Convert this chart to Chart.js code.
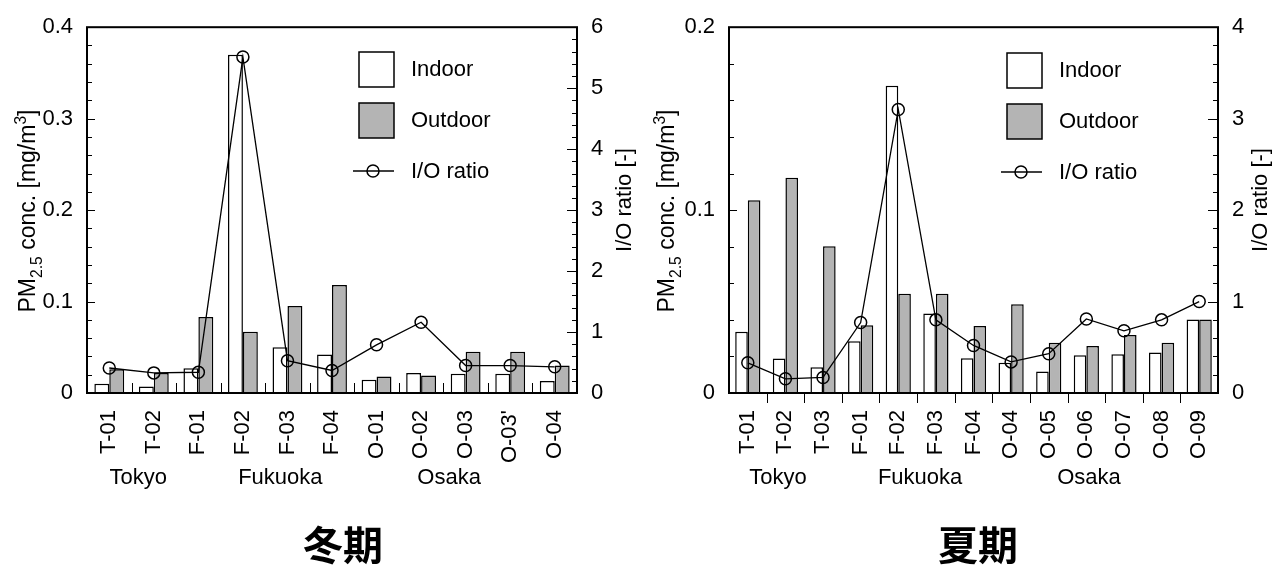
<!DOCTYPE html>
<html>
<head>
<meta charset="utf-8">
<script src="https://cdn.jsdelivr.net/npm/chart.js@4.4.1/dist/chart.umd.min.js"></script>
<style>
  body { margin: 0; background: #fff; }
  #wrap { width: 1272px; height: 568px; display: flex; }
  canvas { display: block; }
</style>
</head>
<body>
<div id="wrap">
  <canvas id="winter" width="636" height="568"></canvas>
  <canvas id="summer" width="636" height="568"></canvas>
</div>
<script>
// winter (冬期)
const winterSites = ['T-01', 'T-02', 'F-01', 'F-02', 'F-03', 'F-04', 'O-01', 'O-02', 'O-03', "O-03'", 'O-04'];
const winterIndoor = [0.010, 0.007, 0.027, 0.370, 0.050, 0.042, 0.0145, 0.022, 0.021, 0.021, 0.013];
const winterOutdoor = [0.026, 0.022, 0.083, 0.067, 0.095, 0.118, 0.018, 0.019, 0.045, 0.045, 0.030];
const winterRatio = [0.41, 0.33, 0.34, 5.51, 0.53, 0.37, 0.79, 1.16, 0.45, 0.45, 0.43];

// summer (夏期)
const summerSites = ['T-01', 'T-02', 'T-03', 'F-01', 'F-02', 'F-03', 'F-04', 'O-04', 'O-05', 'O-06', 'O-07', 'O-08', 'O-09'];
const summerIndoor = [0.0335, 0.0188, 0.0141, 0.0283, 0.168, 0.0435, 0.019, 0.0166, 0.0117, 0.0207, 0.0212, 0.0221, 0.0402];
const summerOutdoor = [0.1054, 0.1177, 0.0802, 0.037, 0.0543, 0.0543, 0.0367, 0.0485, 0.0275, 0.0257, 0.0317, 0.0275, 0.0402];
const summerRatio = [0.33, 0.155, 0.17, 0.77, 3.10, 0.80, 0.52, 0.34, 0.43, 0.81, 0.68, 0.80, 1.0];

const cities = ['Tokyo', 'Fukuoka', 'Osaka'];
const seriesNames = ['Indoor', 'Outdoor', 'I/O ratio'];

const FONT = '"Liberation Sans", Arial, sans-serif';
const GREY = '#b4b4b4';

function line(ctx, x1, y1, x2, y2) {
    ctx.beginPath();
    ctx.moveTo(x1, y1);
    ctx.lineTo(x2, y2);
    ctx.stroke();
}

// text with sub/superscripts, rotated -90deg, centred on (cx, cy)
function rotatedRich(ctx, parts, cx, cy, size) {
    ctx.save();
    ctx.translate(cx, cy);
    ctx.rotate(-Math.PI / 2);
    ctx.textBaseline = 'alphabetic';
    ctx.textAlign = 'left';
    let total = 0;
    parts.forEach(p => {
        ctx.font = (p[1] ? size * 0.68 : size) + 'px ' + FONT;
        total += ctx.measureText(p[0]).width;
    });
    let x = -total / 2;
    parts.forEach(p => {
        ctx.font = (p[1] ? size * 0.68 : size) + 'px ' + FONT;
        const dy = p[1] === 'sub' ? size * 0.3 : p[1] === 'sup' ? -size * 0.42 : 0;
        ctx.fillText(p[0], x, size * 0.36 + dy);
        x += ctx.measureText(p[0]).width;
    });
    ctx.restore();
}

const decor = {
    id: 'decor',
    afterDraw(chart, args, o) {
        const ctx = chart.ctx, a = chart.chartArea;
        const y = chart.scales.y, y1 = chart.scales.y1;
        ctx.save();
        ctx.strokeStyle = '#000';
        ctx.fillStyle = '#000';

        // minor / major ticks on both value axes
        ctx.lineWidth = 1;
        for (let i = 1; i * o.yMinor < y.max - 1e-9; i++) {
            const v = i * o.yMinor;
            const major = Math.abs(v / o.yMajor - Math.round(v / o.yMajor)) < 1e-6;
            const py = Math.round(y.getPixelForValue(v)) + 0.5;
            line(ctx, a.left, py, a.left + (major ? 8 : 5), py);
        }
        for (let i = 1; i * 0.2 < y1.max - 1e-9; i++) {
            const v = i * 0.2;
            const major = Math.abs(v - Math.round(v)) < 1e-6;
            const py = Math.round(y1.getPixelForValue(v)) + 0.5;
            line(ctx, a.right, py, a.right - (major ? 10 : 5), py);
        }

        // category boundary ticks
        const n = chart.data.labels.length;
        const w = (a.right - a.left) / n;
        for (let k = 1; k < n; k++) {
            const px = Math.round(a.left + k * w) + 0.5;
            if (o.xTicksIn) line(ctx, px, a.bottom, px, a.bottom - 10);
            else line(ctx, px, a.bottom, px, a.bottom + 10);
        }

        // frame
        ctx.lineWidth = 2;
        ctx.strokeRect(a.left, a.top, a.right - a.left, a.bottom - a.top);

        // legend
        const lx = o.legend[0], ly = o.legend[1];
        ctx.lineWidth = 1.5;
        ctx.fillStyle = '#fff';
        ctx.fillRect(lx, ly, 35, 35);
        ctx.strokeRect(lx, ly, 35, 35);
        ctx.fillStyle = GREY;
        ctx.fillRect(lx, ly + 51, 35, 35);
        ctx.strokeRect(lx, ly + 51, 35, 35);
        line(ctx, lx - 6, ly + 119, lx + 35, ly + 119);
        ctx.beginPath();
        ctx.arc(lx + 14, ly + 119, 6, 0, Math.PI * 2);
        ctx.stroke();
        ctx.fillStyle = '#000';
        ctx.font = '22px ' + FONT;
        ctx.textAlign = 'left';
        ctx.textBaseline = 'middle';
        ctx.fillText(seriesNames[0], lx + 52, ly + 18);
        ctx.fillText(seriesNames[1], lx + 52, ly + 69);
        ctx.fillText(seriesNames[2], lx + 52, ly + 120);

        // city names under the tick labels
        ctx.textAlign = 'center';
        cities.forEach((c, i) => {
            ctx.fillText(c, a.left + (o.cityAt[i] + 0.5) * w, 478);
        });

        // axis titles
        rotatedRich(ctx, [['PM'], ['2.5', 'sub'], [' conc. [mg/m'], ['3', 'sup'], [']']], o.leftTitleX, 211, 23);
        rotatedRich(ctx, [['I/O ratio [-]']], chart.width - 13, 200, 22);

        // season title
        ctx.font = 'bold 40px "Noto Sans CJK JP", sans-serif';
        ctx.textAlign = 'center';
        ctx.fillText(o.season, o.seasonX, 545);
        ctx.restore();
    }
};

function makeChart(id, labels, indoor, outdoor, ratio, opts) {
    const ctx = document.getElementById(id).getContext('2d');
    return new Chart(ctx, {
        type: 'bar',
        data: {
            labels: labels,
            datasets: [
                {
                    type: 'line',
                    label: seriesNames[2],
                    data: ratio,
                    yAxisID: 'y1',
                    borderColor: '#000',
                    borderWidth: 1.3,
                    pointRadius: 6,
                    pointBorderWidth: 1.5,
                    pointBackgroundColor: 'rgba(0,0,0,0)',
                    pointBorderColor: '#000',
                    tension: 0,
                    order: 0
                },
                {
                    label: seriesNames[0],
                    data: indoor,
                    yAxisID: 'y',
                    backgroundColor: '#fff',
                    borderColor: '#000',
                    borderWidth: 1.5,
                    borderSkipped: 'bottom',
                    categoryPercentage: 0.67,
                    barPercentage: 1.0,
                    order: 1
                },
                {
                    label: seriesNames[1],
                    data: outdoor,
                    yAxisID: 'y',
                    backgroundColor: GREY,
                    borderColor: '#000',
                    borderWidth: 1.5,
                    borderSkipped: 'bottom',
                    categoryPercentage: 0.67,
                    barPercentage: 1.0,
                    order: 1
                }
            ]
        },
        options: {
            responsive: false,
            animation: false,
            layout: { padding: { top: 25, left: 0, right: 0, bottom: 0 } },
            plugins: {
                legend: { display: false },
                tooltip: { enabled: false },
                decor: opts
            },
            scales: {
                x: {
                    offset: true,
                    grid: { display: false, drawTicks: false },
                    border: { display: false },
                    ticks: {
                        autoSkip: false,
                        maxRotation: 90,
                        minRotation: 90,
                        padding: 17,
                        color: '#000',
                        font: { family: FONT, size: 22 }
                    },
                    afterFit: s => { s.height = 175; }
                },
                y: {
                    position: 'left',
                    min: 0,
                    max: opts.yMax,
                    grid: { display: false, drawTicks: false },
                    border: { display: false },
                    ticks: {
                        stepSize: opts.yMajor,
                        padding: 14,
                        color: '#000',
                        font: { family: FONT, size: 22 },
                        callback: v => v === 0 ? '0' : v.toFixed(1)
                    },
                    afterFit: s => { s.width = opts.plotLeft; }
                },
                y1: {
                    position: 'right',
                    min: 0,
                    max: opts.y1Max,
                    grid: { display: false, drawTicks: false },
                    border: { display: false },
                    ticks: {
                        stepSize: 1,
                        padding: 14,
                        color: '#000',
                        font: { family: FONT, size: 22 },
                        callback: v => String(v)
                    },
                    afterFit: s => { s.width = opts.rightW; }
                }
            }
        },
        plugins: [decor]
    });
}

makeChart('winter', winterSites, winterIndoor, winterOutdoor, winterRatio, {
    yMax: 0.4, yMajor: 0.1, yMinor: 0.02, y1Max: 6,
    plotLeft: 87, rightW: 59, xTicksIn: true,
    legend: [359, 52], cityAt: [0.65, 3.84, 7.63],
    leftTitleX: 27, season: '冬期', seasonX: 343
});

makeChart('summer', summerSites, summerIndoor, summerOutdoor, summerRatio, {
    yMax: 0.2, yMajor: 0.1, yMinor: 0.02, y1Max: 4,
    plotLeft: 93, rightW: 54, xTicksIn: false,
    legend: [371, 53], cityAt: [0.80, 4.58, 9.07],
    leftTitleX: 30, season: '夏期', seasonX: 342
});
</script>
</body>
</html>
